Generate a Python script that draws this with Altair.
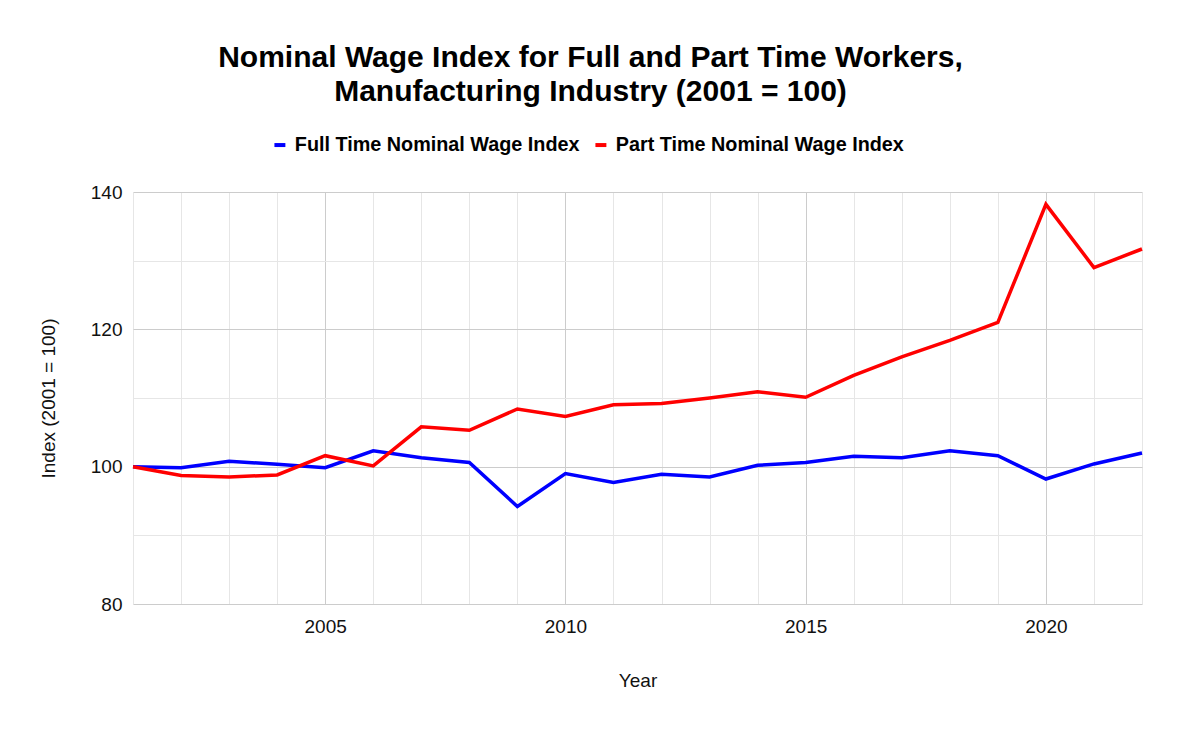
import altair as alt
import pandas as pd

years = list(range(2001, 2023))
full_time = [100.0, 99.85, 100.8, 100.35, 99.85, 102.3, 101.3, 100.6, 94.2, 99.0, 97.7,
             98.9, 98.5, 100.2, 100.6, 101.5, 101.3, 102.3, 101.6, 98.2, 100.4, 102.0]
part_time = [100.0, 98.7, 98.5, 98.8, 101.6, 100.1, 105.8, 105.3, 108.4, 107.3, 109.0,
             109.2, 110.0, 110.9, 110.1, 113.3, 116.0, 118.4, 121.0, 138.2, 129.0, 131.7]
series_names = ["Full Time Nominal Wage Index", "Part Time Nominal Wage Index"]
series_colors = ["#0000ff", "#ff0000"]
y_ticks = [80, 90, 100, 110, 120, 130, 140]

rows = []
for y, f, p in zip(years, full_time, part_time):
    rows.append({"Year": y, "Series": series_names[0], "Value": f})
    rows.append({"Year": y, "Series": series_names[1], "Value": p})
df = pd.DataFrame(rows)

FONT = "Liberation Sans"

chart = alt.Chart(df).mark_line(strokeWidth=3.5).encode(
    x=alt.X("Year:Q",
            scale=alt.Scale(domain=[2001, 2022], nice=False, zero=False),
            axis=alt.Axis(values=years, format="d",
                          labelExpr="datum.value % 5 === 0 ? datum.label : ''",
                          grid=True,
                          gridColor=alt.condition("datum.value % 5 === 0",
                                                  alt.value("#cccccc"), alt.value("#e6e6e6")),
                          ticks=False, domain=False,
                          labelFontSize=19, labelFont=FONT, labelColor="#111111",
                          labelPadding=13, title="Year", titleFontSize=19,
                          titleFont=FONT, titleFontWeight="normal", titleColor="#111111",
                          titlePadding=35)),
    y=alt.Y("Value:Q",
            scale=alt.Scale(domain=[80, 140], nice=False, zero=False),
            axis=alt.Axis(values=y_ticks,
                          labelExpr="datum.value % 20 === 0 ? datum.label : ''",
                          grid=True,
                          gridColor=alt.condition("datum.value % 20 === 0",
                                                  alt.value("#cccccc"), alt.value("#e6e6e6")),
                          ticks=False, domain=False,
                          labelFontSize=19, labelFont=FONT, labelColor="#111111",
                          labelPadding=11, title="Index (2001 = 100)", titleFontSize=19,
                          titleFont=FONT, titleFontWeight="normal", titleColor="#111111",
                          titlePadding=32)),
    color=alt.Color("Series:N",
                    scale=alt.Scale(domain=series_names, range=series_colors),
                    legend=alt.Legend(orient="none", legendX=137, legendY=-57,
                                      direction="horizontal", title=None,
                                      symbolType="stroke", symbolStrokeWidth=4,
                                      symbolSize=120, labelFont=FONT,
                                      labelFontSize=19.8, labelFontWeight="bold",
                                      labelColor="#000000", labelOffset=5,
                                      columnPadding=7, labelLimit=400)),
).properties(
    width=1009,
    height=412,
    autosize=alt.AutoSizeParams(type="none"),
    padding={"left": 125, "top": 184, "right": 29, "bottom": 100},
    title=alt.TitleParams(
        text=["Nominal Wage Index for Full and Part Time Workers,",
              "Manufacturing Industry (2001 = 100)"],
        font=FONT, fontSize=30, fontWeight="bold", color="#000000",
        lineHeight=34, anchor="middle", offset=28, dx=-47),
).configure_view(stroke=None)

chart.save("out.html", embed_options={"renderer": "svg", "actions": False})
